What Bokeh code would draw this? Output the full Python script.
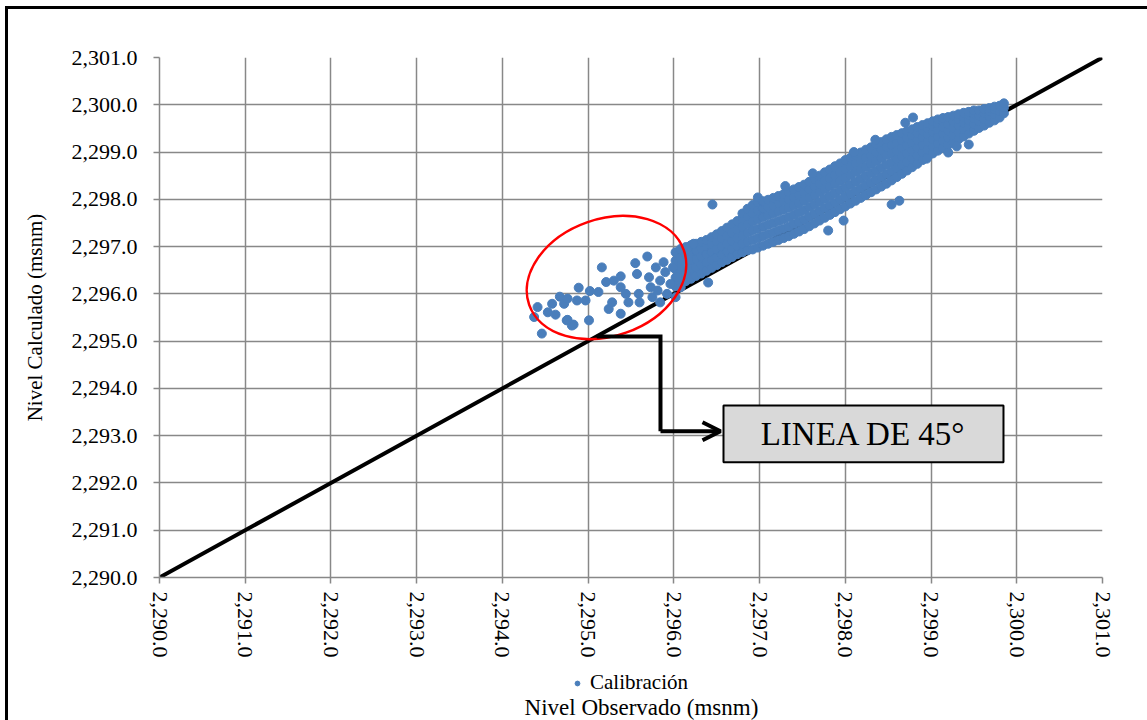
from bokeh.plotting import figure
from bokeh.layouts import column
from bokeh.models import (Range1d, FixedTicker, NumeralTickFormatter, Legend, LegendItem,
                          Arrow, OpenHead, Label, BoxAnnotation, ColumnDataSource)
from bokeh.embed import file_html
from bokeh.resources import INLINE

# ---------------- data ----------------
ticks = [2290, 2291, 2292, 2293, 2294, 2295, 2296, 2297, 2298, 2299, 2300, 2301]

# sparse points (circled region)
obs_disperso = [2294.46, 2294.37, 2294.41, 2294.53, 2294.58, 2294.62, 2294.67, 2294.72, 2294.76, 2294.75,
                2294.83, 2294.89, 2294.87, 2294.97, 2295.02, 2295.01, 2295.12, 2295.16, 2295.21, 2295.24,
                2295.28, 2295.30, 2295.38, 2295.38, 2295.38, 2295.44, 2295.47, 2295.55, 2295.57, 2295.59,
                2295.60, 2295.69, 2295.71, 2295.73, 2295.75, 2295.79, 2295.81, 2295.84, 2295.84, 2295.88,
                2295.90, 2295.92, 2295.96, 2295.99, 2296.04, 2296.08, 2296.02, 2296.14, 2296.17, 2296.15,
                2296.23, 2294.81, 2294.76]
calc_disperso = [2295.16, 2295.51, 2295.72, 2295.61, 2295.79, 2295.56, 2295.94, 2295.79, 2295.90, 2295.44,
                 2295.35, 2296.13, 2295.86, 2295.86, 2296.06, 2295.44, 2296.04, 2296.56, 2296.25, 2295.68,
                 2295.82, 2296.28, 2296.37, 2295.58, 2296.14, 2296.00, 2295.82, 2296.65, 2296.42, 2296.00,
                 2295.82, 2296.79, 2296.35, 2296.14, 2295.93, 2296.56, 2296.07, 2296.28, 2295.82, 2296.67,
                 2296.46, 2296.00, 2296.21, 2296.56, 2296.35, 2296.14, 2295.93, 2296.42, 2296.71, 2296.95,
                 2297.06, 2295.33, 2295.45]

# isolated points around the main band
obs_aislado = [2296.45, 2297.80, 2297.98, 2298.54, 2298.63, 2299.44, 2298.70, 2298.79, 2299.20, 2296.40,
               2297.30, 2297.62, 2298.10, 2298.35, 2298.95, 2299.30]
calc_aislado = [2297.89, 2297.34, 2297.55, 2297.89, 2297.97, 2299.16, 2299.62, 2299.73, 2298.99, 2296.24,
                2298.28, 2298.55, 2299.00, 2299.26, 2298.86, 2299.12]

# main dense band: observed value per column and the calculated values read at that column
obs_banda = [2296.02, 2296.08, 2296.14, 2296.20, 2296.26, 2296.32, 2296.38, 2296.44, 2296.50, 2296.56,
             2296.62, 2296.68, 2296.74, 2296.80, 2296.86, 2296.92, 2296.98, 2297.04, 2297.10, 2297.16,
             2297.22, 2297.28, 2297.34, 2297.40, 2297.46, 2297.52, 2297.58, 2297.64, 2297.70, 2297.76,
             2297.82, 2297.88, 2297.94, 2298.00, 2298.06, 2298.12, 2298.18, 2298.24, 2298.30, 2298.36,
             2298.42, 2298.48, 2298.54, 2298.60, 2298.66, 2298.72, 2298.78, 2298.84, 2298.90, 2298.96,
             2299.02, 2299.08, 2299.14, 2299.20, 2299.26, 2299.32, 2299.38, 2299.44, 2299.50, 2299.56,
             2299.62, 2299.68, 2299.74, 2299.80, 2299.85]
calc_banda = [
    [2296.16, 2296.34, 2296.52, 2296.70, 2296.88],
    [2296.20, 2296.40, 2296.58, 2296.77, 2296.95],
    [2296.27, 2296.45, 2296.64, 2296.83, 2296.99],
    [2296.32, 2296.50, 2296.69, 2296.88, 2297.03],
    [2296.38, 2296.56, 2296.74, 2296.92, 2297.06],
    [2296.43, 2296.61, 2296.79, 2296.97, 2297.10],
    [2296.49, 2296.66, 2296.84, 2297.01, 2297.14],
    [2296.55, 2296.72, 2296.89, 2297.06, 2297.20],
    [2296.61, 2296.78, 2296.95, 2297.11, 2297.26],
    [2296.67, 2296.83, 2297.00, 2297.17, 2297.33],
    [2296.72, 2296.89, 2297.06, 2297.23, 2297.40],
    [2296.78, 2296.95, 2297.12, 2297.29, 2297.47],
    [2296.84, 2297.01, 2297.18, 2297.36, 2297.54],
    [2296.88, 2297.06, 2297.24, 2297.42, 2297.60, 2297.70],
    [2296.92, 2297.10, 2297.29, 2297.47, 2297.64, 2297.80],
    [2296.94, 2297.14, 2297.34, 2297.53, 2297.70, 2297.88],
    [2296.98, 2297.18, 2297.38, 2297.58, 2297.77, 2297.94, 2298.04],
    [2297.02, 2297.22, 2297.42, 2297.62, 2297.80, 2297.96],
    [2297.06, 2297.26, 2297.46, 2297.66, 2297.84, 2297.99],
    [2297.10, 2297.30, 2297.50, 2297.70, 2297.88, 2298.03],
    [2297.14, 2297.34, 2297.54, 2297.74, 2297.92, 2298.07],
    [2297.18, 2297.38, 2297.58, 2297.78, 2297.96, 2298.11],
    [2297.22, 2297.42, 2297.62, 2297.82, 2298.00, 2298.16],
    [2297.27, 2297.47, 2297.67, 2297.87, 2298.05, 2298.21],
    [2297.32, 2297.52, 2297.72, 2297.92, 2298.10, 2298.26],
    [2297.37, 2297.57, 2297.77, 2297.97, 2298.15, 2298.31],
    [2297.43, 2297.63, 2297.83, 2298.03, 2298.21, 2298.37],
    [2297.49, 2297.69, 2297.89, 2298.09, 2298.27, 2298.43],
    [2297.55, 2297.75, 2297.95, 2298.15, 2298.33, 2298.50],
    [2297.61, 2297.81, 2298.01, 2298.21, 2298.39, 2298.57],
    [2297.67, 2297.87, 2298.07, 2298.27, 2298.45, 2298.63],
    [2297.73, 2297.93, 2298.13, 2298.33, 2298.51, 2298.70],
    [2297.79, 2297.99, 2298.19, 2298.39, 2298.57, 2298.76],
    [2297.85, 2298.05, 2298.25, 2298.45, 2298.64, 2298.83],
    [2297.91, 2298.11, 2298.31, 2298.51, 2298.70, 2298.88],
    [2297.97, 2298.17, 2298.37, 2298.57, 2298.76, 2298.94],
    [2298.03, 2298.23, 2298.43, 2298.63, 2298.82, 2298.99],
    [2298.09, 2298.29, 2298.49, 2298.69, 2298.88, 2299.05],
    [2298.15, 2298.35, 2298.55, 2298.75, 2298.93, 2299.10],
    [2298.21, 2298.41, 2298.61, 2298.81, 2298.99, 2299.16],
    [2298.27, 2298.47, 2298.67, 2298.87, 2299.05, 2299.21],
    [2298.33, 2298.53, 2298.73, 2298.93, 2299.11, 2299.27],
    [2298.40, 2298.59, 2298.78, 2298.97, 2299.15, 2299.32],
    [2298.47, 2298.66, 2298.85, 2299.03, 2299.20, 2299.36],
    [2298.54, 2298.73, 2298.91, 2299.09, 2299.25, 2299.40],
    [2298.61, 2298.79, 2298.97, 2299.14, 2299.30, 2299.44],
    [2298.68, 2298.86, 2299.03, 2299.20, 2299.35, 2299.48],
    [2298.75, 2298.92, 2299.09, 2299.25, 2299.40, 2299.53],
    [2298.83, 2298.99, 2299.15, 2299.31, 2299.45, 2299.57],
    [2298.90, 2299.06, 2299.22, 2299.37, 2299.50, 2299.61],
    [2298.97, 2299.12, 2299.27, 2299.42, 2299.55, 2299.65],
    [2299.03, 2299.18, 2299.33, 2299.48, 2299.60, 2299.69],
    [2299.09, 2299.24, 2299.39, 2299.53, 2299.65, 2299.72],
    [2299.15, 2299.30, 2299.45, 2299.59, 2299.74],
    [2299.21, 2299.36, 2299.51, 2299.64, 2299.77],
    [2299.27, 2299.42, 2299.56, 2299.69, 2299.80],
    [2299.33, 2299.48, 2299.62, 2299.74, 2299.83],
    [2299.39, 2299.54, 2299.67, 2299.78, 2299.85],
    [2299.45, 2299.59, 2299.71, 2299.81, 2299.88],
    [2299.51, 2299.65, 2299.77, 2299.88],
    [2299.56, 2299.70, 2299.82, 2299.91],
    [2299.62, 2299.75, 2299.86, 2299.93],
    [2299.67, 2299.80, 2299.90, 2299.96],
    [2299.73, 2299.86, 2299.98],
    [2299.82, 2299.94, 2300.03],
]

# 45-degree reference line end points
linea_45 = [2290.0, 2301.0]

# ---------------- build ----------------
xs, ys = [], []
for xo, col in zip(obs_banda, calc_banda):
    for yc in col:
        xs.append(xo)
        ys.append(yc)
xs += obs_disperso + obs_aislado
ys += calc_disperso + calc_aislado
src = ColumnDataSource(data=dict(obs=xs, calc=ys))

SERIF = "Liberation Serif"
GRID = "#888888"
BLUE = "#4a7ebb"

p = figure(frame_width=943, frame_height=520,
           x_range=Range1d(2290, 2301), y_range=Range1d(2290, 2301),
           output_backend="svg", toolbar_location=None,
           min_border_left=151, min_border_right=45, min_border_top=48, min_border_bottom=86)
p.outline_line_color = None

for ax in (p.xaxis[0], p.yaxis[0]):
    ax.ticker = FixedTicker(ticks=ticks)
    ax.formatter = NumeralTickFormatter(format="0,0.0")
    ax.major_label_text_font = SERIF
    ax.major_label_text_font_size = "22px"
    ax.major_label_text_color = "black"
    ax.axis_line_color = GRID
    ax.axis_line_width = 1.5
    ax.major_tick_line_color = GRID
    ax.major_tick_line_width = 1.5
    ax.major_tick_in = 0
    ax.major_tick_out = 6
    ax.minor_tick_line_color = None

p.yaxis[0].axis_label = "Nivel Calculado (msnm)"
p.yaxis[0].axis_label_text_font = SERIF
p.yaxis[0].axis_label_text_font_size = "21px"
p.yaxis[0].axis_label_text_font_style = "normal"
p.yaxis[0].axis_label_text_color = "black"
p.yaxis[0].major_label_standoff = 16
p.yaxis[0].axis_label_standoff = 22

p.xaxis[0].major_label_orientation = "vertical"
p.xaxis[0].major_label_standoff = 8

p.grid.grid_line_color = GRID
p.grid.grid_line_width = 1.5

# 45 degree line (under the points)
p.line(linea_45, linea_45, line_color="black", line_width=4)

sc = p.scatter("obs", "calc", source=src, size=9, fill_color=BLUE, line_color=BLUE)

# red ellipse around the sparse region
p.ellipse(x=[2295.214], y=[2296.346], width=[164], height=[117], angle=[0.34],
          width_units="screen", height_units="screen",
          fill_color=None, line_color="#ff0000", line_width=2.5)

# callout
p.line([2295.10, 2295.844, 2295.844], [2295.10, 2295.10, 2293.094],
       line_color="black", line_width=4, line_join="miter")
p.add_layout(Arrow(x_start=2295.844, y_start=2293.094, x_end=2296.544, y_end=2293.094,
                   line_color="black", line_width=4,
                   end=OpenHead(size=18, line_width=4, line_color="black")))
p.add_layout(BoxAnnotation(left=2296.579, right=2299.845, bottom=2292.44, top=2293.638,
                           fill_color="#d9d9d9", fill_alpha=1.0, line_color="black",
                           line_width=2, line_alpha=1.0))
p.add_layout(Label(x=(2296.579 + 2299.845) / 2, y=(2292.44 + 2293.638) / 2, text="LINEA DE 45°",
                   text_font=SERIF, text_font_size="33px", text_align="center",
                   text_baseline="middle", text_color="black"))

# ---- strip below the chart (frame aligned with the chart's frame): legend and x-axis title ----
p2 = figure(width=1139, height=57, x_range=Range1d(2290, 2301), y_range=Range1d(0, 57),
            x_axis_type=None, y_axis_type=None, output_backend="svg", toolbar_location=None,
            min_border=0)
p2.outline_line_color = None
p2.grid.visible = False
# same series, same source: its values lie outside this strip's y-range, so only the legend glyph shows
leg_r = p2.scatter("obs", "calc", source=src, size=9, fill_color=BLUE, line_color=BLUE)
legend = Legend(items=[LegendItem(label="Calibración", renderers=[leg_r])],
                location=(412, 25), orientation="horizontal",
                border_line_alpha=0, background_fill_alpha=0,
                label_text_font=SERIF, label_text_font_size="21px", label_text_color="black",
                padding=0, margin=0, glyph_width=12, label_standoff=7)
p2.add_layout(legend, "center")
p2.add_layout(Label(x=2295.622, y=13, text="Nivel Observado (msnm)", text_font=SERIF,
                    text_font_size="23px", text_align="center", text_baseline="middle",
                    text_color="black"))

lay = column(p, p2, spacing=0)
lay.styles = {"border-left": "3px solid black", "border-top": "3px solid black",
              "margin-left": "5px", "margin-top": "6px"}

open("out.html", "w").write(file_html(lay, INLINE))
